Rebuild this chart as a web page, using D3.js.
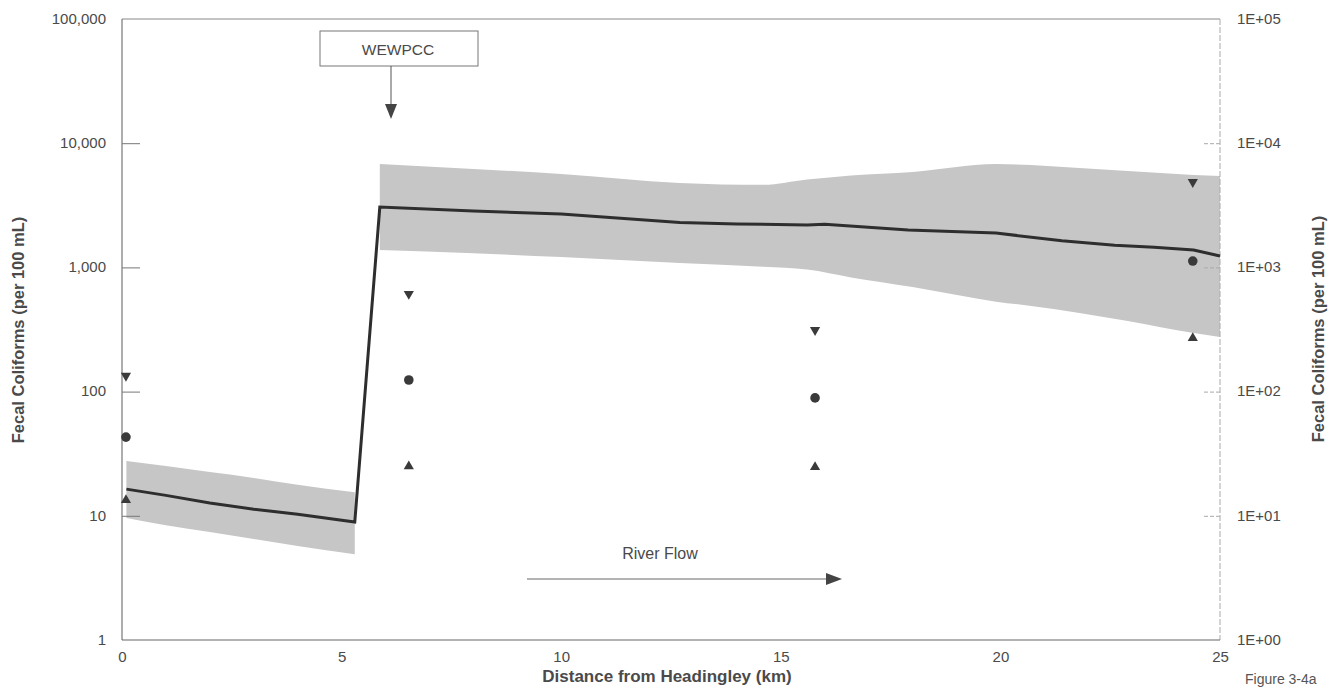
<!DOCTYPE html>
<html><head><meta charset="utf-8">
<script src="https://cdn.jsdelivr.net/npm/d3@7/dist/d3.min.js"></script>
<style>body{margin:0;background:#fff}svg{display:block}text{font-family:Arial,"Liberation Sans",sans-serif}</style>
</head><body><svg id="c" width="1331" height="692"></svg>
<script>
// Model median (upstream of WEWPCC, then downstream)
const lineUp = [[0.1,16.4],[1,14.6],[2,12.7],[3,11.3],[4,10.3],[5.3,8.9]];
const lineDown = [[5.87,3060],[8,2850],[10,2690],[12.7,2300],[14,2240],[15.6,2195],[16,2230],[17.9,2000],[19.9,1890],[21.4,1640],[22.6,1510],[23.5,1450],[24.4,1380],[25,1235]];
// Model band: [x, upper, lower]
const bandUp = [[0.1,27.6,9.6],[1,25.2,8.4],[2,22.5,7.4],[3,20.2,6.5],[4,17.8,5.7],[5.3,15.5,4.9]];
const bandDown = [[5.87,6800,1380],[8,6200,1300],[10,5650,1213],[12.7,4790,1085],[14.6,4620,1010],[15.6,5100,960],[16.6,5500,830],[18,5870,695],[19.9,6800,530],[20.7,6670,490],[21.8,6300,430],[22.9,5970,370],[24.4,5550,296],[25,5450,275]];
// Observed data
const obsX = [0.09, 6.53, 15.78, 24.38];
const obsMax = [134, 611, 313, 4870];
const obsMean = [43, 124, 89, 1125];
const obsMin = [13.4, 25, 24.7, 270];
const xTicks = [0,5,10,15,20,25];
const yTicks = [1,10,100,1000,10000,100000];
const yLeftLabels = ["1","10","100","1,000","10,000","100,000"];
const yRightLabels = ["1E+00","1E+01","1E+02","1E+03","1E+04","1E+05"];

const svg = d3.select("#c");
const x = d3.scaleLinear().domain([0,25]).range([122,1220]);
const y = d3.scaleLog().domain([1,100000]).range([640,19]);
const grey = "#4a4a4a";

// bands
const area = d3.area().x(d=>x(d[0])).y0(d=>y(d[2])).y1(d=>y(d[1])).curve(d3.curveMonotoneX);
[bandUp, bandDown].forEach(b=>svg.append("path").attr("d",area(b)).attr("fill","#c6c6c6"));

// frame
svg.append("line").attr("x1",x(0)).attr("x2",x(25)).attr("y1",y(1e5)).attr("y2",y(1e5)).attr("stroke","#888").attr("stroke-width",1);
svg.append("line").attr("x1",x(0)).attr("x2",x(0)).attr("y1",y(1e5)).attr("y2",y(1)).attr("stroke","#777").attr("stroke-width",1.2);
svg.append("line").attr("x1",x(25)).attr("x2",x(25)).attr("y1",y(1e5)).attr("y2",y(1)).attr("stroke","#aaa").attr("stroke-width",1).attr("stroke-dasharray","6,2");
svg.append("line").attr("x1",x(0)).attr("x2",x(25)).attr("y1",y(1)).attr("y2",y(1)).attr("stroke","#666").attr("stroke-width",1.2);

// axes
const yL = d3.axisLeft(y).tickValues(yTicks).tickFormat((d,i)=>yLeftLabels[i]).tickSizeInner(-18).tickSizeOuter(0).tickPadding(16);
const gL = svg.append("g").attr("transform",`translate(${x(0)},0)`).call(yL);
const yR = d3.axisRight(y).tickValues(yTicks).tickFormat((d,i)=>yRightLabels[i]).tickSizeInner(-17).tickSizeOuter(0).tickPadding(17);
const gR = svg.append("g").attr("transform",`translate(${x(25)},0)`).call(yR);
const xA = d3.axisBottom(x).tickValues(xTicks).tickFormat(d3.format("d")).tickSize(0).tickPadding(11);
const gX = svg.append("g").attr("transform",`translate(0,${y(1)})`).call(xA);
[gL,gR,gX].forEach(g=>{g.select(".domain").remove();g.selectAll("text").attr("fill",grey).attr("font-size",15);});
gL.selectAll("text").attr("dy","0.28em");
gR.selectAll("text").attr("dy","0.28em");
gL.selectAll(".tick line").attr("stroke","#777");
gR.selectAll(".tick line").attr("stroke","#aaa").attr("stroke-dasharray","4,2");
gL.selectAll(".tick").filter(d=>d===1||d===100000).select("line").remove();
gR.selectAll(".tick").filter(d=>d===1||d===100000).select("line").remove();

// median line (straight segments)
const ln = d3.line().x(d=>x(d[0])).y(d=>y(d[1]));
svg.append("path").attr("d",ln(lineUp.concat(lineDown))).attr("fill","none").attr("stroke","#2e2e2e").attr("stroke-width",3).attr("stroke-linejoin","miter");

// markers
const mk = "#3a3a3a";
svg.selectAll(".mx").data(obsX).enter().append("path")
  .attr("d",d3.symbol(d3.symbolTriangle,45)()).attr("fill",mk)
  .attr("transform",(d,i)=>`translate(${x(d)},${y(obsMax[i])}) rotate(180)`);
svg.selectAll(".mn").data(obsX).enter().append("circle")
  .attr("cx",d=>x(d)).attr("cy",(d,i)=>y(obsMean[i])).attr("r",4.8).attr("fill",mk);
svg.selectAll(".mi").data(obsX).enter().append("path")
  .attr("d",d3.symbol(d3.symbolTriangle,45)()).attr("fill",mk)
  .attr("transform",(d,i)=>`translate(${x(d)},${y(obsMin[i])})`);

// titles
svg.append("text").attr("x",667).attr("y",682).attr("text-anchor","middle").attr("font-size",17).attr("font-weight","bold").attr("fill",grey).text("Distance from Headingley (km)");
svg.append("text").attr("transform","translate(24,330) rotate(-90)").attr("text-anchor","middle").attr("font-size",16.5).attr("font-weight","bold").attr("fill",grey).text("Fecal Coliforms (per 100 mL)");
svg.append("text").attr("transform","translate(1324,329) rotate(-90)").attr("text-anchor","middle").attr("font-size",16.5).attr("font-weight","bold").attr("fill",grey).text("Fecal Coliforms (per 100 mL)");
svg.append("text").attr("x",1245).attr("y",684).attr("font-size",14).attr("fill","#555").text("Figure 3-4a");

// WEWPCC annotation
svg.append("rect").attr("x",320).attr("y",31).attr("width",158).attr("height",35).attr("fill","#fff").attr("stroke","#777").attr("stroke-width",1);
svg.append("text").attr("x",398).attr("y",55).attr("text-anchor","middle").attr("font-size",15.5).attr("fill",grey).text("WEWPCC");
svg.append("line").attr("x1",391).attr("x2",391).attr("y1",66).attr("y2",106).attr("stroke","#555").attr("stroke-width",1);
svg.append("path").attr("d","M385,104 L397,104 L391,119 Z").attr("fill","#444");

// River flow arrow
svg.append("text").attr("x",660).attr("y",559).attr("text-anchor","middle").attr("font-size",16).attr("fill",grey).text("River Flow");
svg.append("line").attr("x1",527).attr("x2",828).attr("y1",579).attr("y2",579).attr("stroke","#666").attr("stroke-width",1);
svg.append("path").attr("d","M826,573 L842,579 L826,585 Z").attr("fill","#444");
</script></body></html>
